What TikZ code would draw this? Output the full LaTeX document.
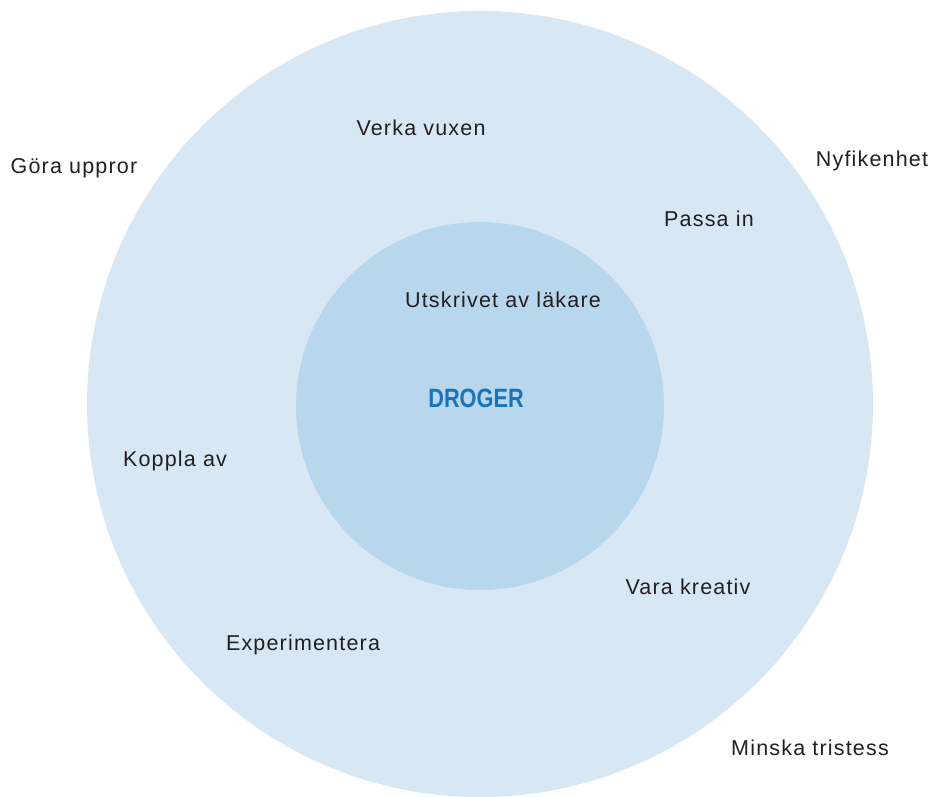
\documentclass[tikz,border=0pt]{standalone}
\usepackage{fontspec}
\setmainfont{Liberation Sans}
\newfontfamily\titlefont[FakeStretch=0.82]{Liberation Sans Bold}
\definecolor{outerblue}{HTML}{D7E7F4}
\definecolor{innerblue}{HTML}{B8D6EC}
\definecolor{titleblue}{HTML}{1A74BA}
\definecolor{txt}{HTML}{231F20}
\begin{document}
\begin{tikzpicture}[x=1pt,y=-1pt,
  lbl/.style={text=txt,inner sep=0pt,yshift=-1.5pt,font=\addfontfeatures{LetterSpace=5.5}\fontsize{21.5}{24}\selectfont},
  ring/.style={circle,inner sep=0pt,draw=none}]
\useasboundingbox (0,0) rectangle (931,796);
\node[ring,fill=outerblue,minimum size=786pt] (outer) at (480,404) {};
\node[ring,fill=innerblue,minimum size=368pt] (inner) at (480,406) {};
\node[text=titleblue,inner sep=0pt,font=\titlefont\fontsize{26.5}{30}\selectfont] (droger) at (476,398) {DROGER};
\node[lbl] (verka) at (421,126) {Verka vuxen};
\node[lbl] (gora) at (74,167) {Göra uppror};
\node[lbl] (nyfiken) at (872,159) {Nyfikenhet};
\node[lbl] (passa) at (709,217) {Passa in};
\node[lbl] (utskrivet) at (503,298) {Utskrivet av läkare};
\node[lbl] (koppla) at (175,459) {Koppla av};
\node[lbl] (vara) at (688,585) {Vara kreativ};
\node[lbl] (exp) at (303,643) {Experimentera};
\node[lbl] (minska) at (810,746) {Minska tristess};
\end{tikzpicture}
\end{document}
